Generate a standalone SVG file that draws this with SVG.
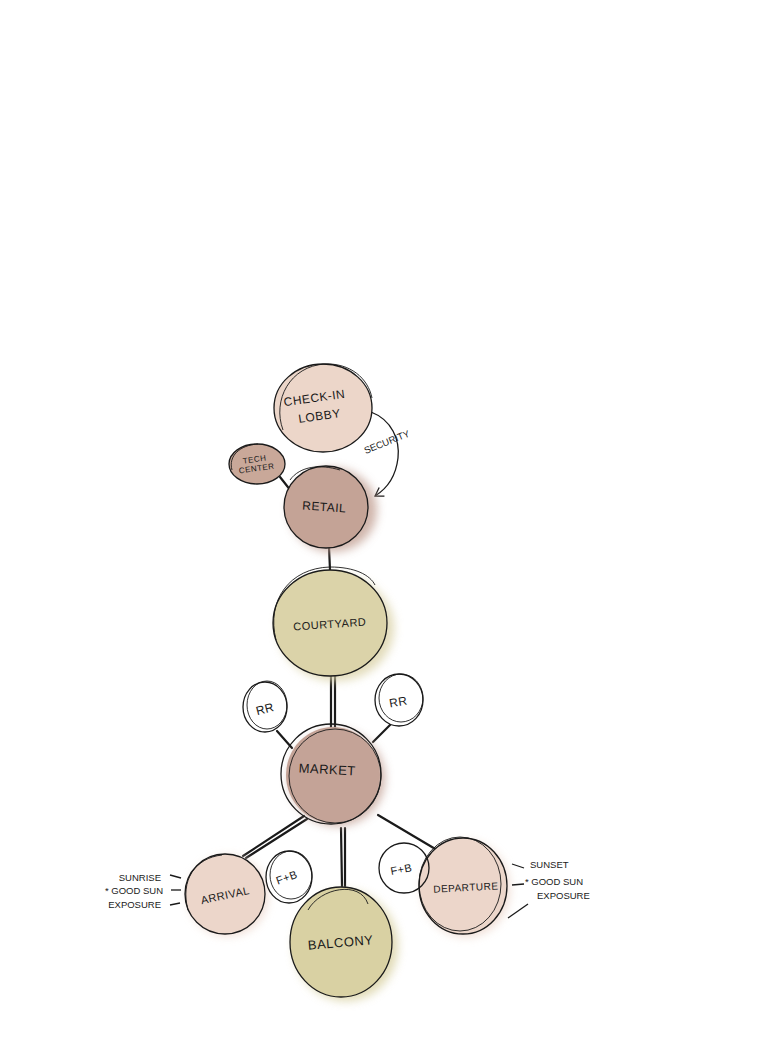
<svg xmlns="http://www.w3.org/2000/svg" width="779" height="1038" viewBox="0 0 779 1038">
<style>
.ink{fill:none;stroke:#1a1a1a;stroke-width:1.3}
.ink2{fill:none;stroke:#1a1a1a;stroke-width:0.9}
.conn{stroke:#1a1a1a;stroke-width:2.2;fill:none;stroke-linecap:round}
.lbl{font-family:"Liberation Sans",Arial,sans-serif;fill:#1a1a1a;text-anchor:middle;letter-spacing:0.5px}
.note{font-family:"Liberation Sans",Arial,sans-serif;fill:#1a1a1a;font-size:9.5px}
</style>
<defs>
<filter id="blur" x="-50%" y="-50%" width="200%" height="200%"><feGaussianBlur stdDeviation="5"/></filter>
<marker id="arr" markerWidth="12" markerHeight="12" refX="9" refY="6" orient="auto" markerUnits="userSpaceOnUse"><path d="M1,1 L9,6 L1,11" fill="none" stroke="#1a1a1a" stroke-width="1.3"/></marker>
</defs>
<rect width="779" height="1038" fill="#ffffff"/>
<g id="connectors">
<line class="conn" x1="280" y1="477" x2="291" y2="491"/>
<line class="conn" x1="329" y1="547" x2="330" y2="570"/>
<line class="conn" x1="331" y1="676" x2="331" y2="727"/>
<line class="conn" x1="335" y1="676" x2="335" y2="727" stroke-width="1.2"/>
<line class="conn" x1="277" y1="731" x2="292" y2="748"/>
<line class="conn" x1="390" y1="725" x2="373" y2="742"/>
<line class="conn" x1="304" y1="816" x2="243" y2="856"/>
<line class="conn" x1="307" y1="819" x2="246" y2="858" stroke-width="1"/>
<line class="conn" x1="378" y1="815" x2="437" y2="850" stroke-width="3"/>
<line class="conn" x1="341" y1="828" x2="342" y2="886" stroke-width="1.6"/>
<line class="conn" x1="345" y1="828" x2="345" y2="886" stroke-width="1"/>
<path class="ink" d="M371,412 C392,420 400,440 398,458 C396,475 388,488 375,496" marker-end="url(#arr)"/>
<text class="note" transform="translate(388,445) rotate(-22)" text-anchor="middle" font-size="11">SECURITY</text>
</g>
<g id="checkin">
<ellipse cx="323" cy="408" rx="49" ry="44" fill="#ecd6c9"/>
<ellipse class="ink" cx="323" cy="408" rx="49" ry="44"/>
<path class="ink2" d="M283,430 C272,400 290,366 325,364 C350,363 368,378 372,398"/>
<text class="lbl" font-size="12" transform="translate(315,402) rotate(-8)">CHECK-IN</text>
<text class="lbl" font-size="12" transform="translate(320,420) rotate(-8)">LOBBY</text>
</g>
<g id="techcenter">
<ellipse cx="257" cy="464" rx="28" ry="20" fill="#c9a899"/>
<ellipse class="ink" cx="257" cy="464" rx="28" ry="20"/>
<path class="ink2" d="M232,470 C228,456 240,445 258,444"/>
<text class="lbl" font-size="8" transform="translate(255,462) rotate(-8)">TECH</text>
<text class="lbl" font-size="8" transform="translate(257,471) rotate(-8)">CENTER</text>
</g>
<g id="retail">
<ellipse cx="333" cy="510" rx="44" ry="42" fill="#c4a396" filter="url(#blur)" opacity="0.8"/>
<ellipse cx="326" cy="507" rx="42" ry="41" fill="#c4a396"/>
<ellipse class="ink" cx="326" cy="507" rx="42" ry="41"/>
<path class="ink2" d="M290,480 C300,466 320,464 340,470"/>
<text class="lbl" font-size="12" transform="translate(324,511) rotate(4)">RETAIL</text>
</g>
<g id="courtyard">
<ellipse cx="336" cy="628" rx="58" ry="53" fill="#dbd3a9" filter="url(#blur)" opacity="0.8"/>
<ellipse cx="330" cy="623" rx="57" ry="53" fill="#dbd3a9"/>
<ellipse class="ink" cx="330" cy="623" rx="57" ry="53"/>
<path class="ink2" d="M276,640 C266,600 290,568 330,567 C355,567 370,575 375,585"/>
<text class="lbl" font-size="11" transform="translate(330,628) rotate(-4)">COURTYARD</text>
</g>
<g id="rrleft">
<ellipse cx="265" cy="707" rx="22" ry="25" fill="#ffffff"/>
<ellipse class="ink" cx="265" cy="707" rx="22" ry="25"/>
<ellipse class="ink2" cx="267" cy="705" rx="20" ry="24"/>
<text class="lbl" font-size="12" transform="translate(266,713) rotate(-15)">RR</text>
</g>
<g id="rrright">
<ellipse cx="399" cy="700" rx="24" ry="26" fill="#ffffff"/>
<ellipse class="ink" cx="399" cy="700" rx="24" ry="26"/>
<ellipse class="ink2" cx="401" cy="698" rx="22" ry="24"/>
<text class="lbl" font-size="12" transform="translate(399,706) rotate(-10)">RR</text>
</g>
<g id="market">
<ellipse cx="337" cy="778" rx="48" ry="48" fill="#c4a397" filter="url(#blur)" opacity="0.8"/>
<ellipse cx="333" cy="775" rx="47" ry="48" fill="#c4a397"/>
<ellipse class="ink" cx="331" cy="774" rx="50" ry="50"/>
<ellipse class="ink2" cx="335" cy="776" rx="46" ry="47"/>
<text class="lbl" font-size="13" transform="translate(327,774) rotate(3)">MARKET</text>
</g>
<g id="arrival">
<ellipse cx="228" cy="896" rx="40" ry="40" fill="#ecd6ca" filter="url(#blur)" opacity="0.8"/>
<ellipse cx="225" cy="894" rx="40" ry="40" fill="#ecd6ca"/>
<ellipse class="ink" cx="225" cy="894" rx="40" ry="40"/>
<path class="ink2" d="M188,910 C180,880 195,858 222,855"/>
<text class="lbl" font-size="11" transform="translate(226,899) rotate(-12)">ARRIVAL</text>
</g>
<g id="fbleft">
<ellipse cx="289" cy="877" rx="23" ry="26" fill="#ffffff"/>
<ellipse class="ink" cx="289" cy="877" rx="23" ry="26"/>
<ellipse class="ink2" cx="291" cy="875" rx="21" ry="24"/>
<text class="lbl" font-size="11" transform="translate(288,881) rotate(-20)">F+B</text>
</g>
<g id="departure">
<ellipse cx="466" cy="889" rx="44" ry="48" fill="#ecd6ca" filter="url(#blur)" opacity="0.8"/>
<ellipse cx="463" cy="886" rx="44" ry="48" fill="#ecd6ca"/>
<ellipse class="ink" cx="463" cy="886" rx="44" ry="48"/>
<ellipse class="ink2" cx="460" cy="884" rx="41" ry="47"/>
<text class="lbl" font-size="10" transform="translate(466,891) rotate(-3)">DEPARTURE</text>
</g>
<g id="fbright">
<ellipse class="ink" cx="404" cy="868" rx="25" ry="25"/>
<text class="lbl" font-size="11" transform="translate(402,873) rotate(-10)">F+B</text>
</g>
<g id="balcony">
<ellipse cx="346" cy="946" rx="52" ry="55" fill="#d9d1a3" filter="url(#blur)" opacity="0.8"/>
<ellipse cx="341" cy="942" rx="51" ry="55" fill="#d9d1a3"/>
<ellipse class="ink" cx="341" cy="942" rx="51" ry="55"/>
<path class="ink2" d="M308,910 C320,888 360,880 368,904"/>
<text class="lbl" font-size="13" transform="translate(341,947) rotate(-5)">BALCONY</text>
</g>
<g id="notes">
<text class="note" x="161" y="881" text-anchor="end">SUNRISE</text>
<text class="note" x="163" y="894" text-anchor="end">* GOOD SUN</text>
<text class="note" x="161" y="908" text-anchor="end">EXPOSURE</text>
<line class="ink" x1="170" y1="875" x2="181" y2="878"/>
<line class="ink" x1="171" y1="890" x2="181" y2="890"/>
<line class="ink" x1="170" y1="905" x2="180" y2="903"/>
<text class="note" x="530" y="868">SUNSET</text>
<text class="note" x="525" y="885">* GOOD SUN</text>
<text class="note" x="537" y="899">EXPOSURE</text>
<line class="ink" x1="512" y1="864" x2="524" y2="868"/>
<line class="ink" x1="512" y1="885" x2="524" y2="884"/>
<line class="ink" x1="508" y1="918" x2="528" y2="904"/>
</g>
</svg>
